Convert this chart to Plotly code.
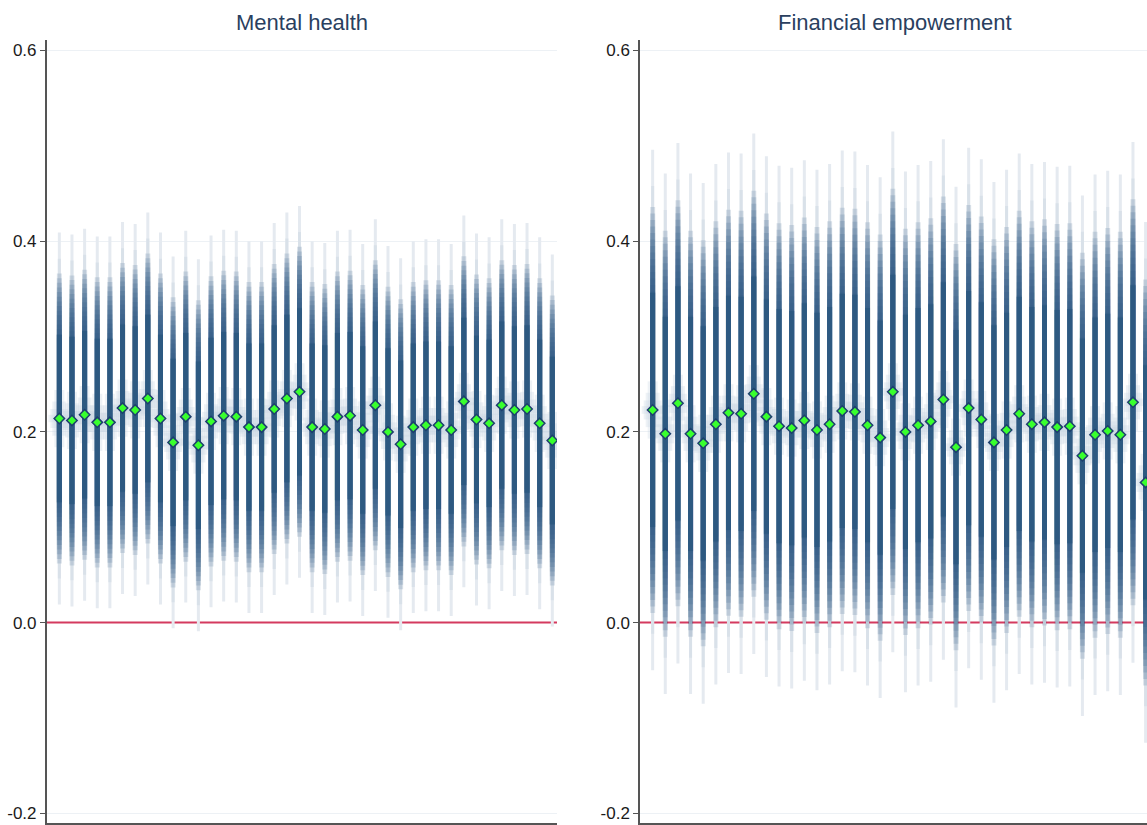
import plotly.graph_objects as go

# ---------------- data ----------------
titles = ["Mental health", "Financial empowerment"]

mh_est = [0.214, 0.212, 0.218, 0.210, 0.210, 0.225, 0.223, 0.235, 0.214, 0.189,
          0.216, 0.186, 0.211, 0.217, 0.216, 0.205, 0.205, 0.224, 0.235, 0.242,
          0.205, 0.203, 0.216, 0.217, 0.202, 0.228, 0.200, 0.187, 0.205, 0.207,
          0.207, 0.202, 0.232, 0.213, 0.209, 0.228, 0.223, 0.224, 0.209, 0.191]
mh_hw = [0.195] * 40

fe_est = [0.223, 0.198, 0.230, 0.198, 0.188, 0.208, 0.220, 0.219, 0.240, 0.216,
          0.206, 0.204, 0.212, 0.202, 0.208, 0.222, 0.221, 0.207, 0.194, 0.242,
          0.200, 0.207, 0.211, 0.234, 0.184, 0.225, 0.213, 0.189, 0.202, 0.219,
          0.208, 0.210, 0.205, 0.206, 0.175, 0.197, 0.201, 0.197, 0.231, 0.147]
fe_hw = [0.273] * 40

panels = [(mh_est, mh_hw), (fe_est, fe_hw)]

# ---------------- style ----------------
CORE_RGB = "44,88,128"
OUTER_BANDS = [(1.0, "#e5eaf0"), (0.86, "#d9e1e9")]
HALO_RGB = "200,212,226"
FADE_FRACS = [0.78, 0.755, 0.73, 0.705, 0.68, 0.655, 0.63, 0.605, 0.58, 0.555,
              0.53, 0.505, 0.48, 0.455, 0.43]
FADE_ALPHA = 0.16
CORE_SOLID = (0.45, 0.85)
HALO = [(22, 0.004, 0.3), (18, 0.010, 0.3), (14, 0.018, 0.3), (10, 0.030, 0.3)]

W, H = 1147, 825
x_doms = [[46.7 / W, 557.0 / W], [640.0 / W, 1.0]]
x_ranges = [[0, 40.37], [0, 40.37 * (W - 640.0) / (1150.3 - 640.0)]]
y_dom = [(H - 823.3) / H, (H - 40) / H]
y_range = [-0.2105, 0.611]
FONT = "Liberation Sans, Arial, Helvetica, sans-serif"

fig = go.Figure()


def seg(xs, est, half):
    X, Y = [], []
    for x, e, h in zip(xs, est, half):
        X += [x, x, None]
        Y += [e - h, e + h, None]
    return X, Y


def add_lines(xs, est, half, color, width, xa, ya):
    X, Y = seg(xs, est, half)
    fig.add_trace(go.Scatter(x=X, y=Y, mode="lines", xaxis=xa, yaxis=ya,
                             line=dict(color=color, width=width),
                             hoverinfo="skip", showlegend=False))


for p, (est, hw) in enumerate(panels):
    xa = "x" if p == 0 else "x2"
    ya = "y" if p == 0 else "y2"
    xs = list(range(1, len(est) + 1))
    # zero reference line
    fig.add_trace(go.Scatter(x=x_ranges[p], y=[0, 0], mode="lines", xaxis=xa, yaxis=ya,
                             line=dict(color="#d43a5f", width=2),
                             hoverinfo="skip", showlegend=False))
    # outer light interval bands
    for fr, col in OUTER_BANDS:
        add_lines(xs, est, [h * fr for h in hw], col, 3, xa, ya)
    # halo around estimate
    for wdt, hh, al in HALO:
        add_lines(xs, est, [hh] * len(est), f"rgba({HALO_RGB},{al})", wdt, xa, ya)
    # faded core
    for fr in FADE_FRACS:
        add_lines(xs, est, [h * fr for h in hw], f"rgba({CORE_RGB},{FADE_ALPHA})", 5, xa, ya)
    add_lines(xs, est, [h * CORE_SOLID[0] for h in hw],
              f"rgba({CORE_RGB},{CORE_SOLID[1]})", 5, xa, ya)
    # point estimates
    fig.add_trace(go.Scatter(x=xs, y=est, mode="markers", xaxis=xa, yaxis=ya,
                             marker=dict(symbol="diamond", size=8, color="#39ff2e",
                                         line=dict(color="#1d3f6e", width=1.5)),
                             showlegend=False))
    # title
    fig.add_annotation(text=titles[p], xref="paper", yref="paper",
                       x=(x_doms[p][0] + (x_doms[p][0] + 510.3 / W)) / 2,
                       y=(H - 23) / H,
                       xanchor="center", yanchor="middle", showarrow=False,
                       font=dict(size=22, color="#2a3f5f", family=FONT))

axis_common_y = dict(range=y_range, domain=y_dom, tickvals=[-0.2, 0.0, 0.2, 0.4, 0.6],
                     ticktext=["-0.2", "0.0", "0.2", "0.4", "0.6"],
                     showgrid=True, gridcolor="#edf1f5", gridwidth=1, zeroline=False,
                     showline=True, linecolor="#555555", linewidth=1.5,
                     ticks="outside", ticklen=5, tickcolor="#555555",
                     tickfont=dict(size=17, color="#1a1a1a", family=FONT))
axis_common_x = dict(showgrid=False, zeroline=False, showticklabels=False, ticks="",
                     showline=True, linecolor="#555555", linewidth=1.5)

fig.update_layout(
    width=W, height=H,
    margin=dict(l=0, r=0, t=0, b=0),
    paper_bgcolor="white", plot_bgcolor="white",
    xaxis=dict(domain=x_doms[0], range=x_ranges[0], anchor="y", **axis_common_x),
    xaxis2=dict(domain=x_doms[1], range=x_ranges[1], anchor="y2", **axis_common_x),
    yaxis=dict(anchor="x", **axis_common_y),
    yaxis2=dict(anchor="x2", **axis_common_y),
    showlegend=False,
)

fig.write_html(
    "out.html",
    config={"displayModeBar": False},
    post_script="document.body.style.margin='0';"
                "document.documentElement.style.overflow='hidden';"
                "document.body.style.overflow='hidden';",
)
